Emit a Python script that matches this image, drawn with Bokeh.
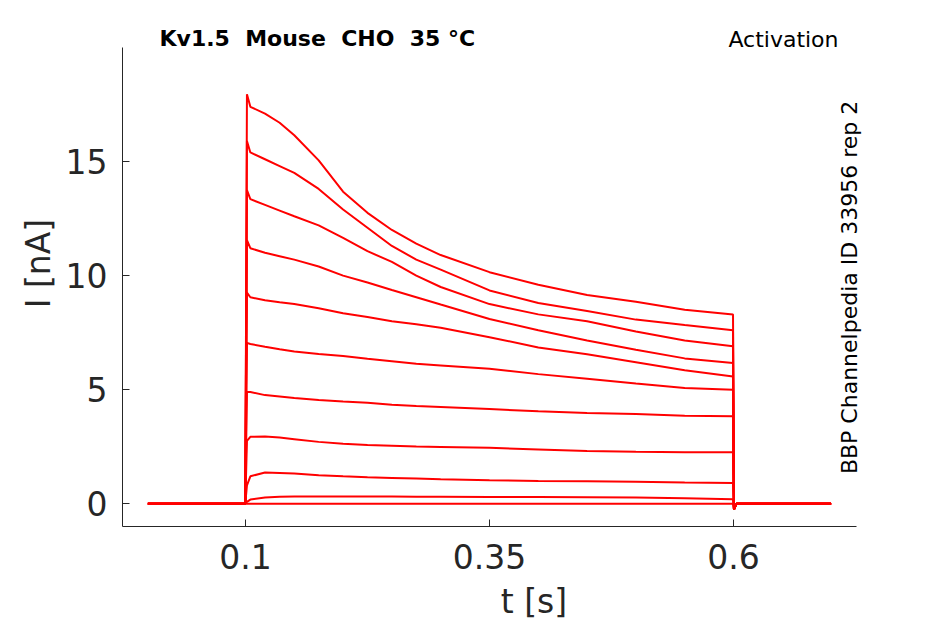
import math
from bokeh.plotting import figure
from bokeh.models import Label, FixedTicker, Range1d
from bokeh.embed import file_html
from bokeh.resources import INLINE

# ---- data ----
time_s = [0.0, 0.0998, 0.1015, 0.105, 0.12, 0.135, 0.15, 0.175, 0.2, 0.225, 0.25,
          0.275, 0.3, 0.35, 0.4, 0.45, 0.5, 0.55, 0.5995, 0.6005, 0.603, 0.7]

trace_baseline = [0, 0, 0, 0, 0, 0, 0, 0, 0, 0, 0, 0, 0, 0, 0, 0, 0, 0, 0, -0.25, 0, 0]
trace_01 = [0, 0, 0.08, 0.18, 0.27, 0.30, 0.31, 0.32, 0.32, 0.31, 0.31, 0.30, 0.30, 0.29, 0.29, 0.28, 0.27, 0.24, 0.20, -0.25, 0, 0]
trace_02 = [0, 0, 0.80, 1.20, 1.37, 1.35, 1.32, 1.25, 1.20, 1.16, 1.13, 1.10, 1.07, 1.03, 1.00, 0.98, 0.96, 0.93, 0.91, -0.25, 0, 0]
trace_03 = [0, 0, 2.75, 2.93, 2.95, 2.90, 2.83, 2.71, 2.63, 2.57, 2.54, 2.51, 2.49, 2.45, 2.38, 2.31, 2.28, 2.26, 2.25, -0.25, 0, 0]
trace_04 = [0, 0, 4.90, 4.90, 4.76, 4.70, 4.63, 4.55, 4.48, 4.42, 4.34, 4.28, 4.24, 4.15, 4.05, 3.98, 3.93, 3.86, 3.83, -0.25, 0, 0]
trace_05 = [0, 0, 7.05, 7.00, 6.88, 6.77, 6.67, 6.56, 6.47, 6.35, 6.24, 6.13, 6.06, 5.92, 5.68, 5.48, 5.27, 5.07, 5.00, -0.25, 0, 0]
trace_06 = [0, 0, 9.25, 9.05, 8.92, 8.83, 8.75, 8.57, 8.35, 8.18, 8.00, 7.87, 7.71, 7.30, 6.85, 6.55, 6.20, 5.85, 5.58, -0.25, 0, 0]
trace_07 = [0, 0, 11.55, 11.20, 11.00, 10.85, 10.70, 10.40, 10.00, 9.70, 9.37, 9.05, 8.73, 8.10, 7.60, 7.15, 6.75, 6.37, 6.17, -0.25, 0, 0]
trace_08 = [0, 0, 13.75, 13.35, 13.10, 12.85, 12.60, 12.20, 11.65, 11.07, 10.60, 10.00, 9.50, 8.75, 8.30, 8.00, 7.55, 7.15, 6.90, -0.25, 0, 0]
trace_09 = [0, 0, 15.90, 15.40, 15.10, 14.80, 14.50, 13.80, 12.90, 12.10, 11.30, 10.70, 10.26, 9.35, 8.80, 8.45, 8.07, 7.83, 7.60, -0.25, 0, 0]
trace_10 = [0, 0, 17.95, 17.40, 17.10, 16.70, 16.15, 15.05, 13.68, 12.75, 12.00, 11.40, 10.90, 10.15, 9.60, 9.15, 8.85, 8.50, 8.29, -0.25, 0, 0]

traces = [trace_baseline, trace_01, trace_02, trace_03, trace_04, trace_05,
          trace_06, trace_07, trace_08, trace_09, trace_10]

x_ticks = [0.1, 0.35, 0.6]
y_ticks = [0, 5, 10, 15]
x_axis_bounds = (-0.026, 0.726)
y_axis_bounds = (-1, 20)

title_text = "Kv1.5 \u00a0Mouse \u00a0CHO \u00a035 °C"
protocol_text = "Activation"
source_text = "BBP Channelpedia ID 33956 rep 2"

# ---- figure ----
p = figure(width=945, height=624,
           x_range=Range1d(-0.026, 0.8172), y_range=Range1d(-1, 22.06),
           output_backend="svg", toolbar_location=None,
           min_border_left=122, min_border_right=0,
           min_border_top=0, min_border_bottom=98)

p.background_fill_color = "white"
p.border_fill_color = "white"
p.outline_line_color = None
p.xgrid.visible = False
p.ygrid.visible = False

for tr in traces:
    p.line(time_s, tr, line_color="#ff0000", line_width=2)

axcol = "#262626"
for ax in (p.xaxis[0], p.yaxis[0]):
    ax.axis_line_color = axcol
    ax.axis_line_width = 1
    ax.major_tick_line_color = axcol
    ax.major_tick_in = 7
    ax.major_tick_out = 0
    ax.minor_tick_line_color = None
    ax.major_label_text_font = "DejaVu Sans"
    ax.major_label_text_font_size = "33px"
    ax.major_label_text_color = axcol
    ax.axis_label_text_font = "DejaVu Sans"
    ax.axis_label_text_font_size = "33px"
    ax.axis_label_text_font_style = "normal"
    ax.axis_label_text_color = axcol

p.xaxis.bounds = x_axis_bounds
p.yaxis.bounds = y_axis_bounds
p.xaxis.ticker = FixedTicker(ticks=x_ticks)
p.yaxis.ticker = FixedTicker(ticks=y_ticks)
p.xaxis.major_label_overrides = {0.1: "0.1", 0.35: "0.35", 0.6: "0.6"}
p.xaxis.axis_label = "t [s]"
p.yaxis.axis_label = "I [nA]"
p.xaxis.major_label_standoff = 17
p.xaxis.axis_label_standoff = 10
p.yaxis.major_label_standoff = 15
p.yaxis.axis_label_standoff = 5

p.add_layout(Label(x=0.0119, y=20.39, text=title_text,
                   text_font="DejaVu Sans", text_font_style="bold",
                   text_font_size="22px", text_color="black",
                   text_align="left", text_baseline="alphabetic"))
p.add_layout(Label(x=0.7076, y=20.37, text=protocol_text,
                   text_font="DejaVu Sans", text_font_size="22px",
                   text_color="black",
                   text_align="right", text_baseline="alphabetic"))
p.add_layout(Label(x=0.7186, y=9.48, text=source_text, angle=math.pi / 2,
                   text_font="DejaVu Sans", text_font_size="22px",
                   text_color="black",
                   text_align="center", text_baseline="alphabetic"))

open("out.html", "w").write(file_html(p, INLINE))
